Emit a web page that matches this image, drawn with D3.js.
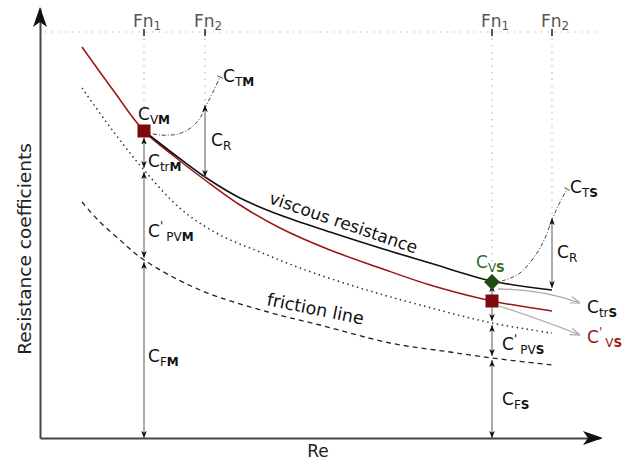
<!DOCTYPE html>
<html>
<head>
<meta charset="utf-8">
<script src="https://cdn.jsdelivr.net/npm/d3@7"></script>
<style>
body { margin: 0; background: #fff; }
svg { display: block; font-family: "DejaVu Sans", sans-serif; }
</style>
</head>
<body>
<div id="chart"></div>
<script>
// values: x = Re, y = resistance coefficient (arbitrary units)
var fnValues = [10.4, 16.5, 45.2, 51.2];
var fnSubs = ["1", "2", "1", "2"];
var fnLevel = 40.6;

// red line (C'v), black viscous resistance line, dotted line, friction line
var cvPrimeLine = [[4.2,39.1],[7.3,34.8],[10.4,30.7],[13.5,28.1],[16.5,25.8],[20.0,23.3],[24.0,21.0],[29.0,18.8],[34.0,17.0],[39.0,15.3],[45.2,13.7],[51.2,12.7]];
var viscousLine = [[10.4,30.7],[13.5,28.3],[16.5,26.1],[20.0,24.0],[24.0,22.3],[29.0,20.6],[34.0,19.0],[39.0,17.5],[45.2,15.7],[51.2,14.8]];
var dottedLine = [[4.2,35.0],[7.3,30.7],[10.4,26.8],[14.2,22.8],[18.0,20.3],[22.0,18.6],[26.0,17.0],[32.0,15.0],[38.0,13.3],[45.2,11.5],[51.2,10.5]];
var frictionLine = [[4.2,23.6],[5.8,21.8],[8.0,19.8],[10.4,17.8],[16.0,14.8],[22.8,12.6],[28.0,11.3],[35.0,9.5],[41.0,8.6],[45.2,8.0],[51.2,7.3]];

// total resistance, model and ship
var ctModel = [[10.4,30.6],[12.0,30.3],[13.8,30.4],[15.2,31.1],[16.0,32.0],[16.6,33.2],[17.3,34.6],[18.0,36.1]];
var ctShip = [[45.3,15.5],[46.5,15.8],[48.0,16.5],[49.7,18.5],[50.5,20.0],[51.2,21.8],[51.8,23.2],[52.7,24.9]];

// points
var cvModel = [10.4, 30.7];
var cvShip = [45.2, 15.6];
var cvShipPrime = [45.2, 13.7];

// levels along Fn1 where the arrows stop
var modelLevels = [30.7, 26.8, 17.8, 0];
var shipLevels = [15.6, 11.5, 8.0, 0];
var crModel = [33.3, 26.1];
var crShip = [22.0, 15.0];

var width = 629, height = 462;
var x = d3.scaleLinear().domain([0, 56]).range([40, 600]);
var y = d3.scaleLinear().domain([0, 43]).range([438, 8]);

var svg = d3.select("#chart").append("svg")
    .attr("width", width)
    .attr("height", height);

var defs = svg.append("defs");
defs.append("marker")
    .attr("id", "head")
    .attr("viewBox", "0 0 10 10")
    .attr("refX", 10).attr("refY", 5)
    .attr("markerUnits", "userSpaceOnUse")
    .attr("markerWidth", 7).attr("markerHeight", 7)
    .attr("orient", "auto-start-reverse")
    .append("path")
    .attr("d", "M0,1 L10,5 L0,9 L2.5,5 Z")
    .attr("fill", "#111");
defs.append("marker")
    .attr("id", "open")
    .attr("viewBox", "0 0 10 10")
    .attr("refX", 10).attr("refY", 5)
    .attr("markerUnits", "userSpaceOnUse")
    .attr("markerWidth", 10).attr("markerHeight", 10)
    .attr("orient", "auto")
    .append("path")
    .attr("d", "M0,1.5 L10,5 L0,8.5")
    .attr("fill", "none")
    .attr("stroke", "#aaa")
    .attr("stroke-width", 1.2);

var line = d3.line()
    .x(d => x(d[0]))
    .y(d => y(d[1]))
    .curve(d3.curveCatmullRom.alpha(0.5));

// dotted guide lines at the top and under each Fn
svg.append("line")
    .attr("x1", x(0.5)).attr("x2", x(55.7))
    .attr("y1", y(fnLevel)).attr("y2", y(fnLevel))
    .attr("stroke", "#aaa").attr("stroke-width", 1.2)
    .attr("stroke-dasharray", "1.2,5.5");

var fnStops = [cvModel[1] + 1.6, crModel[0], cvShip[1] + 2.1, crShip[0]];
svg.selectAll(".fnline")
    .data(fnValues)
    .enter().append("line")
    .attr("class", "fnline")
    .attr("x1", d => x(d)).attr("x2", d => x(d))
    .attr("y1", y(fnLevel)).attr("y2", (d, i) => y(fnStops[i]))
    .attr("stroke", "#aaa").attr("stroke-width", 1.2)
    .attr("stroke-dasharray", "1.2,5.5");

svg.selectAll(".fntick")
    .data(fnValues)
    .enter().append("line")
    .attr("class", "fntick")
    .attr("x1", d => x(d)).attr("x2", d => x(d))
    .attr("y1", y(fnLevel) - 3).attr("y2", y(fnLevel) + 4)
    .attr("stroke", "#222").attr("stroke-width", 1.5);

var fnText = svg.selectAll(".fn")
    .data(fnValues)
    .enter().append("text")
    .attr("class", "fn")
    .attr("x", d => x(d) - 11)
    .attr("y", y(fnLevel) - 5)
    .attr("font-size", 17)
    .attr("fill", "#555");
fnText.append("tspan").text("Fn");
fnText.append("tspan").attr("font-size", 12).attr("dy", 3).text((d, i) => fnSubs[i]);

// curves
svg.append("path").attr("d", line(frictionLine))
    .attr("fill", "none").attr("stroke", "#222").attr("stroke-width", 1.3)
    .attr("stroke-dasharray", "5,4");
svg.append("path").attr("d", line(dottedLine))
    .attr("fill", "none").attr("stroke", "#333").attr("stroke-width", 1.5)
    .attr("stroke-dasharray", "1.5,3.5");
svg.append("path").attr("d", line(cvPrimeLine))
    .attr("fill", "none").attr("stroke", "#9b1414").attr("stroke-width", 1.5);
svg.append("path").attr("d", line(viscousLine))
    .attr("fill", "none").attr("stroke", "#111").attr("stroke-width", 1.6);

[ctModel, ctShip].forEach(function(ct) {
    svg.append("path").attr("d", line(ct))
        .attr("fill", "none").attr("stroke", "#444").attr("stroke-width", 1)
        .attr("stroke-dasharray", "4,2,1,2");
    // little end tick, square to the curve
    var a = ct[ct.length - 2], b = ct[ct.length - 1];
    var dx = x(b[0]) - x(a[0]), dy = y(b[1]) - y(a[1]);
    var len = Math.sqrt(dx * dx + dy * dy);
    var nx = -dy / len * 3, ny = dx / len * 3;
    svg.append("line")
        .attr("x1", x(b[0]) + nx).attr("y1", y(b[1]) + ny)
        .attr("x2", x(b[0]) - nx).attr("y2", y(b[1]) - ny)
        .attr("stroke", "#444").attr("stroke-width", 1);
});

// double headed arrows
function arrow(xv, py0, py1) {
    svg.append("line")
        .attr("x1", x(xv)).attr("x2", x(xv))
        .attr("y1", py0).attr("y2", py1)
        .attr("stroke", "#888").attr("stroke-width", 1.4)
        .attr("marker-start", "url(#head)")
        .attr("marker-end", "url(#head)");
}
function levelArrows(xv, levels, firstGap) {
    for (var i = 0; i < levels.length - 1; i++) {
        var top = y(levels[i]) + (i == 0 ? firstGap : 2);
        var bot = levels[i + 1] == 0 ? y(0) : y(levels[i + 1]) - 2;
        arrow(xv, top, bot);
    }
}
levelArrows(fnValues[0], modelLevels, 6.5);
levelArrows(fnValues[2], shipLevels, 3);
arrow(fnValues[1], y(crModel[0]), y(crModel[1]));
arrow(fnValues[3], y(crShip[0]), y(crShip[1]));

// grey pointers to the ship labels
svg.append("path")
    .attr("d", "M" + (x(cvShip[0]) + 6) + "," + (y(cvShip[1]) + 7) +
        " Q" + (x(cvShip[0]) + 48) + "," + (y(cvShip[1]) + 7) + " " + (x(cvShip[0]) + 88) + "," + (y(cvShip[1]) + 21))
    .attr("fill", "none").attr("stroke", "#aaa").attr("stroke-width", 1.3)
    .attr("marker-end", "url(#open)");
svg.append("path")
    .attr("d", "M" + (x(cvShipPrime[0]) + 7) + "," + (y(cvShipPrime[1]) + 5) +
        " Q" + (x(cvShipPrime[0]) + 45) + "," + (y(cvShipPrime[1]) + 17) + " " + (x(cvShipPrime[0]) + 88) + "," + (y(cvShipPrime[1]) + 34))
    .attr("fill", "none").attr("stroke", "#aaa").attr("stroke-width", 1.3)
    .attr("marker-end", "url(#open)");

// markers
svg.append("rect")
    .attr("x", x(cvModel[0]) - 6.5).attr("y", y(cvModel[1]) - 6.5)
    .attr("width", 13).attr("height", 13)
    .attr("fill", "#7d0a0a");
svg.append("rect")
    .attr("x", x(cvShipPrime[0]) - 6.5).attr("y", y(cvShipPrime[1]) - 6.5)
    .attr("width", 13).attr("height", 13)
    .attr("fill", "#7d0a0a");
svg.append("path")
    .attr("d", d3.symbol().type(d3.symbolDiamond2).size(160))
    .attr("transform", "translate(" + x(cvShip[0]) + "," + y(cvShip[1]) + ")")
    .attr("fill", "#1d4d12");

// coefficient labels: C with subscript, last letter bold
function coef(px, py, sub, bold, prime, color) {
    var t = svg.append("text")
        .attr("x", px).attr("y", py)
        .attr("font-size", 17)
        .attr("fill", color || "#111");
    t.append("tspan").text("C");
    var down = 4;
    if (prime) {
        t.append("tspan").attr("font-size", 12).attr("dy", -7).text("'");
        down = 11;
    }
    t.append("tspan").attr("font-size", 12).attr("dy", down).attr("dx", prime ? 3 : 0).text(sub);
    t.append("tspan").attr("font-size", 12).attr("font-weight", "bold").text(bold);
}
var mEnd = ctModel[ctModel.length - 1], sEnd = ctShip[ctShip.length - 1];
coef(x(mEnd[0]) + 3, y(mEnd[1]) + 5, "T", "M");
coef(x(cvModel[0]) - 6, y(cvModel[1]) - 11, "V", "M");
coef(x(fnValues[1]) + 6, (y(crModel[0]) + y(crModel[1])) / 2 + 5, "R", "");
coef(x(fnValues[0]) + 4, y(modelLevels[1]) - 3, "tr", "M");
coef(x(fnValues[0]) + 4, y(modelLevels[2]) - 23, "PV", "M", true);
coef(x(fnValues[0]) + 4, (y(modelLevels[2]) + y(0)) / 2 + 13, "F", "M");
coef(x(sEnd[0]) + 3, y(sEnd[1]) + 4, "T", "S");
coef(x(cvShip[0]) - 16, y(cvShip[1]) - 14, "V", "S", false, "#2e6b1f");
coef(x(fnValues[3]) + 5, (y(crShip[0]) + y(crShip[1])) / 2 + 5, "R", "");
coef(x(cvShip[0]) + 95, y(cvShip[1]) + 31, "tr", "S");
coef(x(cvShip[0]) + 95, y(cvShipPrime[1]) + 42, "V", "S", true, "#a01414");
coef(x(fnValues[2]) + 10, y(shipLevels[2]) - 8, "PV", "S", true);
coef(x(fnValues[2]) + 10, (y(shipLevels[2]) + y(0)) / 2 + 7, "F", "S");

// curve names
svg.append("text")
    .attr("transform", "translate(" + x(22.8) + "," + (y(22.9) - 6) + ") rotate(19)")
    .attr("font-size", 17).attr("fill", "#111")
    .text("viscous resistance");
svg.append("text")
    .attr("transform", "translate(" + x(22.6) + "," + (y(13.2) - 1) + ") rotate(11.5)")
    .attr("font-size", 17.5).attr("fill", "#111")
    .text("friction line");

// axes with arrow heads
svg.append("g")
    .attr("transform", "translate(" + x(0) + ",0)")
    .call(d3.axisLeft(y).ticks(0).tickSizeOuter(0))
    .select(".domain").attr("stroke", "#444").attr("stroke-width", 2);
svg.append("g")
    .attr("transform", "translate(0," + y(0) + ")")
    .call(d3.axisBottom(x).ticks(0).tickSizeOuter(0))
    .select(".domain").attr("stroke", "#444").attr("stroke-width", 2);

svg.append("path")
    .attr("d", "M" + x(0) + "," + (y(43) - 1) + " l-7,20 l7,-5 l7,5 Z")
    .attr("fill", "#111");
svg.append("path")
    .attr("d", "M" + (x(56) + 3) + "," + y(0) + " l-20,-7 l5,7 l-5,7 Z")
    .attr("fill", "#111");

svg.append("text")
    .attr("x", 318).attr("y", 457)
    .attr("text-anchor", "middle")
    .attr("font-size", 17).attr("fill", "#222")
    .text("Re");
svg.append("text")
    .attr("transform", "translate(31," + 249 + ") rotate(-90)")
    .attr("text-anchor", "middle")
    .attr("font-size", 18.5).attr("fill", "#222")
    .text("Resistance coefficients");
</script>
</body>
</html>
